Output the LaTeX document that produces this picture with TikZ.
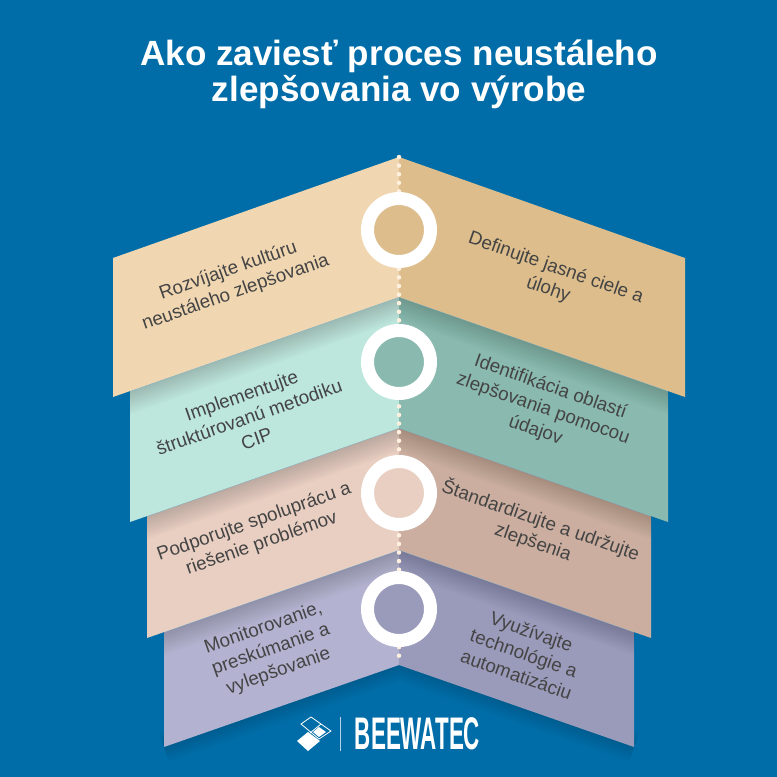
\documentclass[tikz,border=0pt]{standalone}
\usepackage{fontspec}
\setmainfont{Liberation Sans}
\usetikzlibrary{positioning}
\definecolor{bgblue}{HTML}{006DA8}
\definecolor{sandl}{HTML}{F0D7B2}
\definecolor{sandr}{HTML}{DCBD8B}
\definecolor{mintl}{HTML}{BDE6DD}
\definecolor{mintr}{HTML}{8ABAAF}
\definecolor{rosel}{HTML}{E8CFC2}
\definecolor{roser}{HTML}{CBAE9F}
\definecolor{lilacl}{HTML}{B3B3D1}
\definecolor{lilacr}{HTML}{9A9ABA}
\definecolor{labelgray}{HTML}{444444}
\tikzset{
    tierlabel/.style={text=labelgray,align=center,inner sep=0pt,font=\fontsize{10.7pt}{13pt}\selectfont},
    ringnode/.style={circle,draw=white,line width=0.26cm,minimum size=1.26cm,inner sep=0pt},
    titlenode/.style={text=white,align=center,inner sep=0pt,font=\fontsize{19.95pt}{20.4pt}\selectfont\bfseries},
    softshadow/.style={black,opacity=0.014}
}
\begin{document}
\begin{tikzpicture}[x=0.02cm,y=-0.02cm]
    \useasboundingbox (0,0) rectangle (777,777);
    \fill[bgblue] (0,0) rectangle (777,777);
    % shadow of the lowest tier on the background
    \foreach \w in {4,8,...,32}
        \draw[softshadow,line width=\w*0.02cm] (164,747) -- (399,665) -- (634,747);
    % lower tiers, lowest first, each with the shadow of the one above it
    \foreach \xe/\ya/\yb/\yc/\yd/\cl/\cr/\xu/\yu/\yv in {164/540/622/665/747/lilacl/lilacr/147/550/638, 147/420/508/550/638/rosel/roser/130/428/522, 130/287/381/428/522/mintl/mintr/113/297/397} {
        \fill[\cl] (399,\ya) -- (\xe,\yb) -- (\xe,\yd) -- (399,\yc) -- cycle;
        \fill[\cr] (399,\ya) -- ({798-\xe},\yb) -- ({798-\xe},\yd) -- (399,\yc) -- cycle;
        \begin{scope}
            \clip (399,\ya) -- (\xe,\yb) -- (\xe,\yd) -- (399,\yc) -- ({798-\xe},\yd) -- ({798-\xe},\yb) -- cycle;
            \foreach \w in {4,8,...,44}
                \draw[softshadow,line width=\w*0.02cm] (\xu,\yv) -- (399,\yu) -- ({798-\xu},\yv);
            \draw[bgblue!55,line width=0.012cm] (\xu,\yv) -- (399,\yu) -- ({798-\xu},\yv);
        \end{scope}
    }
    % top tier
    \fill[sandl] (399,157) -- (113,258) -- (113,397) -- (399,297) -- cycle;
    \fill[sandr] (399,157) -- (685,258) -- (685,397) -- (399,297) -- cycle;
    % dots on the axis
    \draw[white!88!orange,line width=0.09cm,line cap=round,dash pattern=on 0pt off 0.172cm] (399,157) -- (399,662);
    % rings
    \foreach \y/\c [count=\i] in {230/sandr,362/mintr,493/rosel,609/lilacr}
        \node[ringnode,fill=\c] (ring\i) at (399,\y) {};
    % texts
    \foreach \x/\y/\r/\t [count=\i] in {
        232/282/19.3/{Rozvíjajte kultúru\\neustáleho zlepšovania},
        552/279/-19.3/{Definujte jasné ciele a\\úlohy},
        249/417/19.3/{Implementujte\\štruktúrovanú metodiku\\CIP},
        543/409/-19.3/{Identifikácia oblastí\\zlepšovania pomocou\\údajov},
        258/533/19.3/{Podporujte spoluprácu a\\riešenie problémov},
        537/531/-19.3/{Štandardizujte a udržujte\\zlepšenia},
        271/650/19.3/{Monitorovanie,\\preskúmanie a\\vylepšovanie},
        524/653/-19.3/{Využívajte\\technológie a\\automatizáciu}}
        \node[tierlabel,rotate=\r] (label\i) at (\x,\y) {\t};
    \node[titlenode] (title) at (399,74) {Ako zaviesť proces neustáleho\\zlepšovania vo výrobe};
    % logo
    \fill[white] (297,741) -- (308,732) -- (320,741) -- (308,751) -- cycle;
    \fill[white] (313,732) -- (319,727) -- (326,732) -- (319,737) -- cycle;
    \draw[white,line width=0.016cm] (301,724) -- (311,717) -- (331,731) -- (319,739) -- cycle;
    \draw[white,line width=0.016cm] (310,733) -- (321,724);
    \draw[white!70!bgblue,line width=0.02cm] (340,717) -- (340,751);
    \node[inner sep=0pt,text=white,xscale=0.49,font=\fontsize{26pt}{26pt}\selectfont\bfseries] (brand) at (417.5,733.5) {BEEWATEC};
\end{tikzpicture}
\end{document}
